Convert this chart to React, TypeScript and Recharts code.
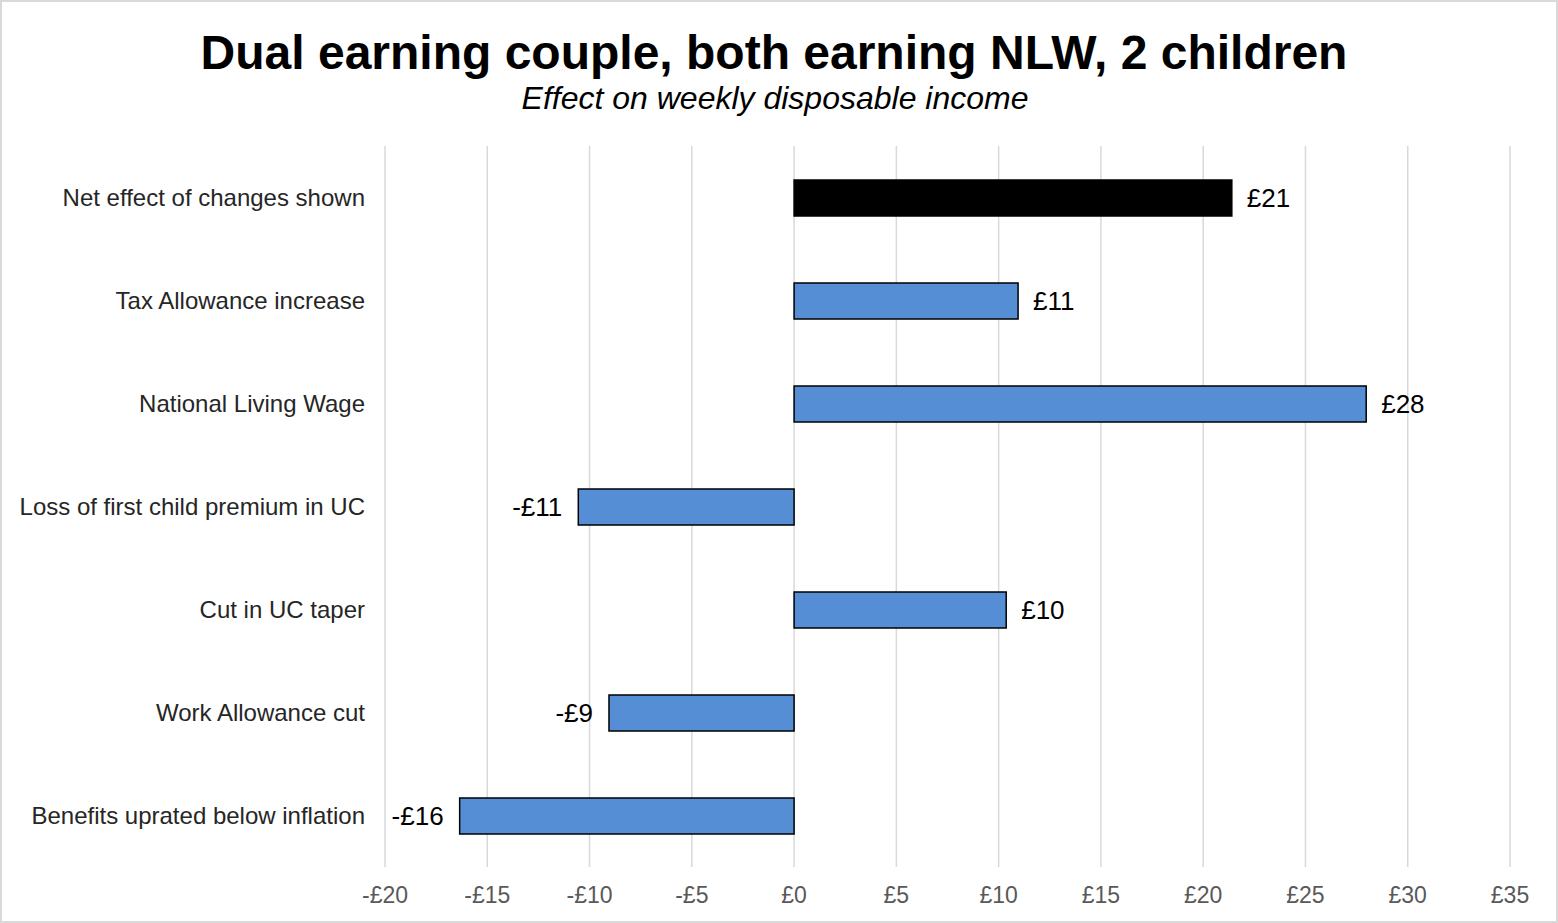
import React from "react";
import { BarChart, Bar, XAxis, YAxis, CartesianGrid, Cell, LabelList } from "recharts";

const categories = [
  "Net effect of changes shown",
  "Tax Allowance increase",
  "National Living Wage",
  "Loss of first child premium in UC",
  "Cut in UC taper",
  "Work Allowance cut",
  "Benefits uprated below inflation",
];
const values = [21.4, 10.95, 27.97, -10.55, 10.37, -9.05, -16.35];
const xTicks = [-20, -15, -10, -5, 0, 5, 10, 15, 20, 25, 30, 35];

const data = categories.map((name, i) => ({ name, value: values[i] }));

const fmt = (v: number) => (v < 0 ? `-£${Math.abs(v)}` : `£${v}`);
const fmtRound = (v: number) => fmt(Math.sign(v) * Math.round(Math.abs(v)));

const FONT = "'Liberation Sans', Arial, sans-serif";

const ValueLabel = (props: any) => {
  const { x, y, width, height, value } = props;
  const neg = value < 0;
  const left = Math.min(x, x + width);
  const right = Math.max(x, x + width);
  const tx = neg ? left - 16 : right + 15;
  return (
    <text
      x={tx}
      y={y + height / 2}
      dy="0.36em"
      textAnchor={neg ? "end" : "start"}
      fontSize={26}
      fontFamily={FONT}
      fill="#000"
    >
      {fmtRound(value)}
    </text>
  );
};

const CatTick = (props: any) => {
  const { y, payload } = props;
  return (
    <text x={363} y={y} dy="0.36em" textAnchor="end" fontSize={24} fontFamily={FONT} fill="#262626">
      {payload.value}
    </text>
  );
};

export default function App() {
  return (
    <div
      style={{
        position: "absolute",
        left: 0,
        top: 0,
        width: 1558,
        height: 923,
        boxSizing: "border-box",
        border: "2px solid #d9d9d9",
        background: "#fff",
        fontFamily: FONT,
      }}
    >
      <div style={{ position: "absolute", left: 0, top: 0, width: 1554, height: 919 }}>
        <BarChart
          width={1554}
          height={919}
          data={data}
          layout="vertical"
          margin={{ top: 144, right: 46, bottom: 14, left: 0 }}
          barCategoryGap={0}
        >
          <CartesianGrid horizontal={false} stroke="#d9d9d9" strokeWidth={1.5} />
          <XAxis
            type="number"
            domain={[-20, 35]}
            ticks={xTicks}
            tickFormatter={fmt}
            axisLine={false}
            tickLine={false}
            tick={{ fontSize: 23, fill: "#595959", fontFamily: FONT }}
            tickMargin={14}
            height={40}
          />
          <YAxis
            type="category"
            dataKey="name"
            width={383}
            axisLine={false}
            tickLine={false}
            tick={<CatTick />}
          />
          <Bar dataKey="value" barSize={36} stroke="#000" strokeWidth={1.5} isAnimationActive={false}>
            {data.map((d, i) => (
              <Cell key={d.name} fill={i === 0 ? "#000000" : "#558ED5"} />
            ))}
            <LabelList dataKey="value" content={<ValueLabel />} />
          </Bar>
        </BarChart>
      </div>
      <div
        style={{
          position: "absolute",
          left: -5,
          width: 1554,
          top: 23,
          textAlign: "center",
          fontSize: 48,
          fontWeight: "bold",
          color: "#000",
          lineHeight: "56px",
        }}
      >
        Dual earning couple, both earning NLW, 2 children
      </div>
      <div
        style={{
          position: "absolute",
          left: -4,
          width: 1554,
          top: 77,
          textAlign: "center",
          fontSize: 32,
          fontStyle: "italic",
          color: "#000",
          lineHeight: "38px",
        }}
      >
        Effect on weekly disposable income
      </div>
    </div>
  );
}
